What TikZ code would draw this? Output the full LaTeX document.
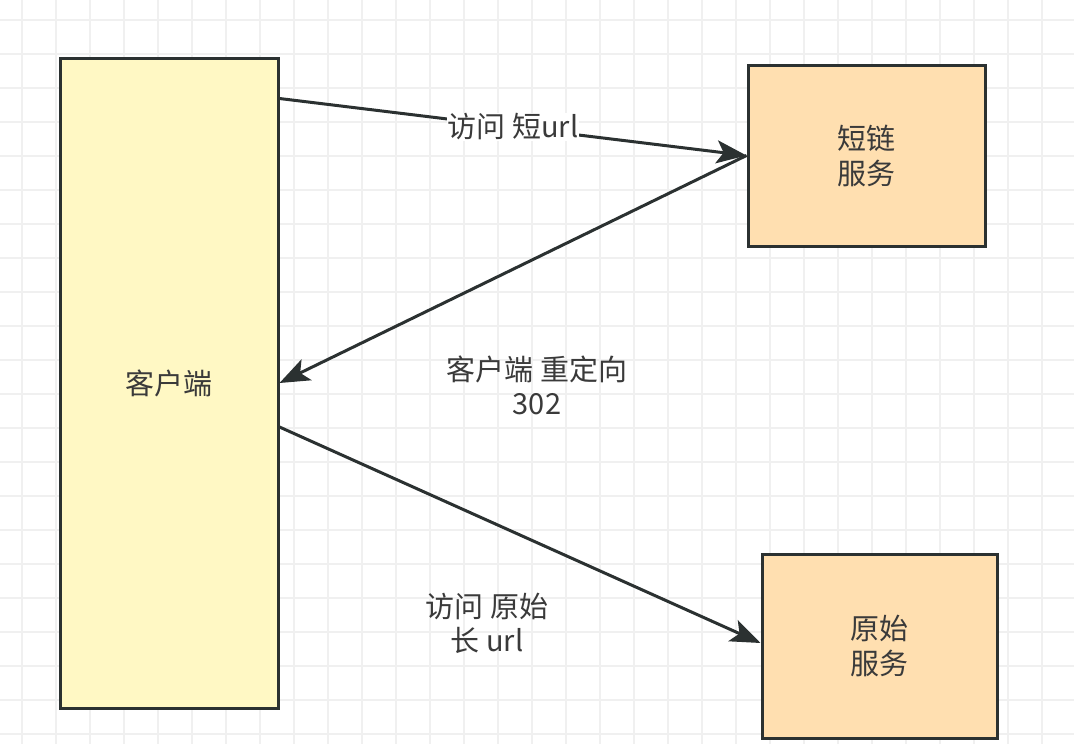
\documentclass[tikz,border=0pt]{standalone}
\usepackage{fontspec}
\setmainfont{Noto Sans CJK SC}
\usetikzlibrary{arrows.meta}
\definecolor{gridc}{HTML}{F0F0F0}
\definecolor{strokec}{HTML}{2B3131}
\definecolor{yellowf}{HTML}{FFF8C4}
\definecolor{peachf}{HTML}{FFDFB0}
\definecolor{textc}{HTML}{3A3A3A}
\tikzset{
  box/.style={draw=strokec, line width=3pt, align=center, inner sep=0pt,
    text=textc, font=\fontsize{29}{35}\selectfont},
  conn/.style={draw=strokec, line width=3pt,
    -{Stealth[length=30pt, width=23pt, inset=7pt]}},
  lbl/.style={text=textc, align=center, font=\fontsize{29}{34}\selectfont, inner sep=1pt}
}
\begin{document}
\begin{tikzpicture}[x=1pt, y=-1pt]
\useasboundingbox (0,0) rectangle (1074,744);
\fill[white] (0,0) rectangle (1074,744);
\foreach \i in {0,...,31} {
  \draw[gridc, line width=1.2pt] (22+34*\i,0) -- (22+34*\i,744);
}
\foreach \j in {0,...,21} {
  \draw[gridc, line width=1.2pt] (0,20+34*\j) -- (1074,20+34*\j);
}
\node[box, fill=yellowf, minimum width=218pt, minimum height=650pt] (client) at (169,383) {客户端};
\node[box, fill=peachf, minimum width=237pt, minimum height=181pt] (short) at (866.5,155.5) {短链\\服务};
\node[box, fill=peachf, minimum width=235pt, minimum height=184pt] (orig) at (879.5,646) {原始\\服务};

\draw[conn] ([yshift=-42pt]client.north east) -- node[lbl, fill=white, midway] (l1) {访问 短url} (short.west);
\draw[conn] (short.west) -- (client.east);
\draw[conn] ([yshift=-44pt]client.east) -- ([yshift=3pt]orig.west);

\node[lbl] (l2) at (537,385) {客户端 重定向\\302};
\node[lbl] (l3) at (487,623) {访问 原始\\长 url};
\end{tikzpicture}
\end{document}
